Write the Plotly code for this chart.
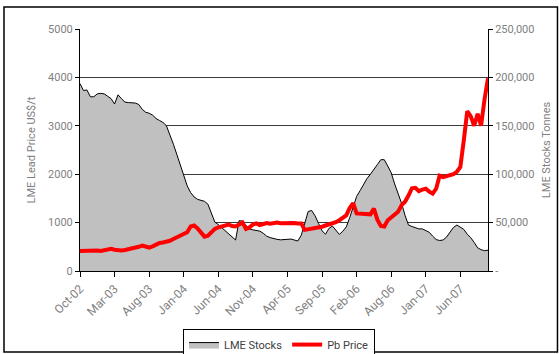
import numpy as np
import plotly.graph_objects as go

# Category tick labels (one every 10 observations)
tick_labels = ["Oct-02", "Mar-03", "Aug-03", "Jan-04", "Jun-04", "Nov-04",
               "Apr-05", "Sep-05", "Feb-06", "Aug-06", "Jan-07", "Jun-07"]

# LME lead stocks, tonnes
lme_stocks = [193600, 186500, 187000, 180000, 180000, 183000, 183500, 183000, 180500, 178000,
              172500, 182000, 178000, 174500, 174000, 173500, 173500, 172000, 167000, 164000,
              163000, 161000, 157500, 155500, 153500, 150000, 141000, 131000, 120500, 109500,
              98500, 88000, 81000, 76500, 74000, 73000, 72000, 69000, 60000, 50500,
              48000, 45000, 41000, 38500, 36000, 32000, 52000, 51500, 47000, 43500,
              42500, 41700, 41200, 39000, 36000, 34500, 33200, 32700, 32200, 32500,
              33200, 33000, 32000, 31000, 37000, 49500, 61500, 62500, 57000, 49000,
              41500, 38000, 44000, 46500, 42000, 37800, 41000, 45500, 55000, 67000,
              77000, 83000, 89500, 95500, 100000, 104500, 110000, 115000, 115000, 108500,
              101500, 90000, 80000, 70000, 57500, 47500, 46000, 44500, 43500, 43500,
              41500, 40000, 36000, 32500, 31500, 32000, 35000, 40000, 45000, 47500,
              45000, 43000, 38000, 34500, 29500, 24000, 22000, 21000, 21500]

# LME lead cash price, US$/t
pb_price = [415, 420, 430, 425, 435, 425, 415, 430, 450, 460,
            440, 430, 425, 435, 450, 460, 470, 500, 525, 500,
            485, 510, 550, 580, 590, 605, 625, 660, 700, 740,
            760, 800, 920, 940, 880, 780, 710, 730, 790, 870,
            900, 915, 950, 960, 930, 920, 960, 1000, 870, 900,
            960, 985, 950, 970, 990, 975, 990, 1000, 985, 990,
            975, 985, 990, 980, 980, 850, 860, 880, 880, 900,
            915, 940, 960, 990, 1010, 1050, 1100, 1150, 1300, 1400,
            1190, 1180, 1175, 1180, 1170, 1290, 1060, 930, 920, 1050,
            1110, 1170, 1225, 1360, 1430, 1560, 1710, 1720, 1650, 1680,
            1700, 1640, 1600, 1700, 1970, 1940, 1960, 1980, 2000, 2050,
            2150, 2700, 3300, 3200, 3000, 3250, 3000, 3550, 3980]

x = np.arange(len(pb_price))
tick_vals = list(range(0, 10 * len(tick_labels), 10))

FONT = "Roboto"
GREY = "#7f7f7f"

fig = go.Figure()

fig.add_trace(go.Scatter(
    x=x, y=lme_stocks, name="LME Stocks", mode="lines",
    fill="tozeroy", fillcolor="#c0c0c0",
    line=dict(color="#000000", width=1),
    yaxis="y",
))
fig.add_trace(go.Scatter(
    x=x, y=pb_price, name="Pb Price", mode="lines",
    line=dict(color="#ff0000", width=4),
    yaxis="y2",
))

stock_ticks = [0, 50000, 100000, 150000, 200000, 250000]
stock_text = ["-", "50,000", "100,000", "150,000", "200,000", "250,000"]

fig.update_layout(
    width=559, height=354,
    margin=dict(l=80, r=71, t=29, b=83, autoexpand=False),
    paper_bgcolor="white", plot_bgcolor="white",
    font=dict(family=FONT, size=11, color=GREY),
    showlegend=True,
    legend=dict(
        orientation="h", x=0.2525, y=-0.24, xanchor="left", yanchor="top",
        bordercolor="#000000", borderwidth=1, bgcolor="white",
        font=dict(family=FONT, size=11, color="#404040"),
        itemwidth=30, tracegroupgap=0,
    ),
    xaxis=dict(
        range=[0, len(pb_price) - 1],
        tickmode="array", tickvals=tick_vals, ticktext=tick_labels,
        tickangle=-45, ticks="outside", ticklen=5, tickcolor="#000000",
        showline=True, linecolor="#000000", linewidth=1,
        showgrid=False, zeroline=False,
        tickfont=dict(family=FONT, size=12, color=GREY),
    ),
    # stocks on the right-hand axis, drawn underneath
    yaxis=dict(
        side="right", range=[0, 250000],
        tickmode="array", tickvals=stock_ticks, ticktext=stock_text,
        ticks="outside", ticklen=4, tickcolor="#000000",
        showline=True, linecolor="#000000", linewidth=1,
        showgrid=True, gridcolor="#3c3c3c", gridwidth=1, zeroline=False,
        title=dict(text="LME Stocks Tonnes", standoff=8,
                   font=dict(family=FONT, size=11, color=GREY)),
        tickfont=dict(family=FONT, size=11, color=GREY),
    ),
    # price on the left-hand axis, drawn on top
    yaxis2=dict(
        side="left", overlaying="y", range=[0, 5000],
        tickmode="array", tickvals=[0, 1000, 2000, 3000, 4000, 5000],
        ticks="outside", ticklen=4, tickcolor="#000000",
        showline=True, linecolor="#000000", linewidth=1,
        showgrid=False, zeroline=False,
        title=dict(text="LME Lead Price US$/t", standoff=10,
                   font=dict(family=FONT, size=11, color=GREY)),
        tickfont=dict(family=FONT, size=11, color=GREY),
    ),
    shapes=[
        dict(type="rect", xref="paper", yref="paper",
             x0=-0.1863, x1=1.1703, y0=-0.3347, y1=1.0909,
             line=dict(color="#000000", width=1.5), layer="below"),
    ],
)

fig.write_html("out.html")
